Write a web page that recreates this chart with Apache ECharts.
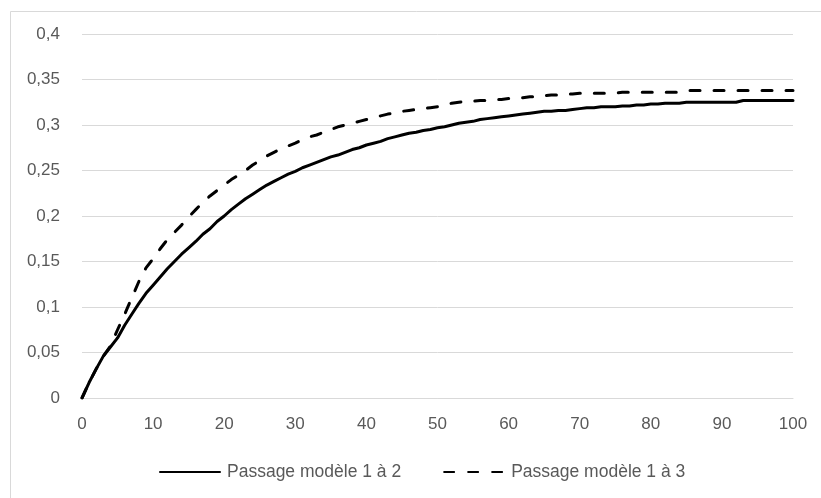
<!DOCTYPE html>
<html>
<head>
<meta charset="utf-8">
<script src="https://cdn.jsdelivr.net/npm/echarts@6/dist/echarts.min.js"></script>
<style>
  html, body { margin: 0; padding: 0; background: #fff; }
  #chart { width: 821px; height: 498px; }
</style>
</head>
<body>
<div id="chart"></div>
<script>
// x steps 0..100
const steps = Array.from({ length: 101 }, (_, i) => i)

const seriesNames = ['Passage modèle 1 à 2', 'Passage modèle 1 à 3']

const model12 = [
  0, 0.017, 0.032, 0.046, 0.056, 0.066, 0.080, 0.092, 0.104, 0.115,
  0.124, 0.133, 0.142, 0.150, 0.158, 0.165, 0.172, 0.180, 0.186, 0.194,
  0.200, 0.207, 0.213, 0.219, 0.224, 0.229, 0.234, 0.238, 0.242, 0.246,
  0.249, 0.253, 0.256, 0.259, 0.262, 0.265, 0.267, 0.270, 0.273, 0.275,
  0.278, 0.280, 0.282, 0.285, 0.287, 0.289, 0.291, 0.292, 0.294, 0.295,
  0.297, 0.298, 0.300, 0.302, 0.303, 0.304, 0.306, 0.307, 0.308, 0.309,
  0.310, 0.311, 0.312, 0.313, 0.314, 0.315, 0.315, 0.316, 0.316, 0.317,
  0.318, 0.319, 0.319, 0.320, 0.320, 0.320, 0.321, 0.321, 0.322, 0.322,
  0.323, 0.323, 0.324, 0.324, 0.324, 0.325, 0.325, 0.325, 0.325, 0.325,
  0.325, 0.325, 0.325, 0.327, 0.327, 0.327, 0.327, 0.327, 0.327, 0.327,
  0.327
]

const model13 = [
  0, 0.017, 0.032, 0.046, 0.057, 0.075, 0.092, 0.110, 0.128, 0.143,
  0.153, 0.164, 0.174, 0.182, 0.190, 0.199, 0.207, 0.215, 0.222, 0.228,
  0.234, 0.240, 0.245, 0.250, 0.256, 0.261, 0.266, 0.270, 0.274, 0.277,
  0.280, 0.284, 0.287, 0.289, 0.292, 0.295, 0.298, 0.300, 0.302, 0.304,
  0.306, 0.308, 0.310, 0.312, 0.313, 0.315, 0.316, 0.317, 0.318, 0.319,
  0.320, 0.322, 0.324, 0.325, 0.326, 0.326, 0.327, 0.327, 0.328, 0.328,
  0.329, 0.329, 0.330, 0.331, 0.331, 0.332, 0.333, 0.333, 0.334, 0.334,
  0.335, 0.335, 0.335, 0.335, 0.335, 0.335, 0.336, 0.336, 0.336, 0.336,
  0.336, 0.336, 0.336, 0.336, 0.336, 0.338, 0.338, 0.338, 0.338, 0.338,
  0.338, 0.338, 0.338, 0.338, 0.338, 0.338, 0.338, 0.338, 0.338, 0.338,
  0.338
]

const font = '"Liberation Sans", sans-serif'
const labelColor = '#595959'
const gridColor = '#d9d9d9'

const chart = echarts.init(document.getElementById('chart'))
chart.setOption({
  animation: false,
  backgroundColor: '#fff',
  graphic: [{
    type: 'rect', left: 8, top: 9, silent: true,
    shape: { width: 900, height: 600 },
    style: { fill: 'none', stroke: gridColor, lineWidth: 1 }
  }],
  grid: { left: 82, right: 28, top: 34, bottom: 100 },
  legend: {
    bottom: 12, left: 154,
    itemWidth: 60, itemHeight: 10, itemGap: 42,
    itemStyle: { opacity: 0 },
    textStyle: { color: labelColor, fontSize: 17.5, fontFamily: font, padding: [0, 0, 0, 2] },
    data: seriesNames
  },
  xAxis: {
    type: 'value', min: 0, max: 100, interval: 10,
    axisLine: { show: true, lineStyle: { color: gridColor } },
    axisTick: { show: false },
    splitLine: { show: false },
    axisLabel: { color: labelColor, fontSize: 17, fontFamily: font, margin: 18 }
  },
  yAxis: {
    type: 'value', min: 0, max: 0.4, interval: 0.05,
    axisLine: { show: false },
    axisTick: { show: false },
    splitLine: { lineStyle: { color: gridColor, width: 1 } },
    axisLabel: {
      color: labelColor, fontSize: 17, fontFamily: font, margin: 22,
      formatter: v => String(+v.toFixed(2)).replace('.', ',')
    }
  },
  series: [
    {
      name: seriesNames[0], type: 'line', showSymbol: false, symbol: 'none',
      data: steps.map((x, i) => [x, model12[i]]),
      lineStyle: { color: '#000', width: 3, cap: 'round', join: 'round' },
      itemStyle: { color: '#000' }
    },
    {
      name: seriesNames[1], type: 'line', showSymbol: false, symbol: 'none',
      data: steps.map((x, i) => [x, model13[i]]),
      lineStyle: { color: '#000', width: 3, type: [10, 14], cap: 'round', join: 'round' },
      itemStyle: { color: '#000' }
    }
  ]
})
</script>
</body>
</html>
